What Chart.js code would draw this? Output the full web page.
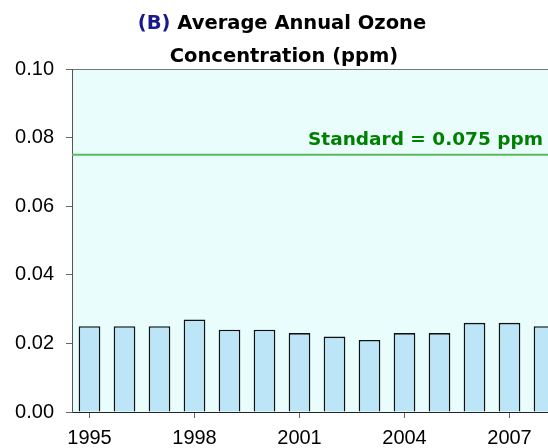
<!DOCTYPE html>
<html>
<head>
<meta charset="utf-8">
<script src="https://cdn.jsdelivr.net/npm/chart.js@4.4.1/dist/chart.umd.min.js"></script>
<style>
  html, body { margin: 0; padding: 0; background: #fff; overflow: hidden; }
  #wrap { width: 548px; height: 448px; overflow: hidden; }
</style>
</head>
<body>
<div id="wrap"><canvas id="ozoneChart" width="562" height="448"></canvas></div>
<script>
// Chart data
const years = ["1995", "1996", "1997", "1998", "1999", "2000", "2001",
               "2002", "2003", "2004", "2005", "2006", "2007", "2008"];
const ozoneValues = [0.025, 0.025, 0.025, 0.027, 0.024, 0.024, 0.023,
                     0.022, 0.021, 0.023, 0.023, 0.026, 0.026, 0.025];
const standardValue = 0.075;
const yTicks = [0.00, 0.02, 0.04, 0.06, 0.08, 0.10];
const titleLines = ["Average Annual Ozone", "Concentration (ppm)"];

const titleFont = "bold 19.5px 'DejaVu Sans', sans-serif";
const labelFont = "bold 18.5px 'DejaVu Sans', sans-serif";

// Light cyan plot area with a thin top border
const plotBackground = {
  id: "plotBackground",
  beforeDraw(chart) {
    const { ctx, chartArea } = chart;
    ctx.save();
    ctx.fillStyle = "#e9fdfd";
    ctx.fillRect(chartArea.left, chartArea.top, chartArea.right - chartArea.left, chartArea.bottom - chartArea.top);
    ctx.strokeStyle = "#777";
    ctx.lineWidth = 1;
    ctx.beginPath();
    ctx.moveTo(chartArea.left, chartArea.top + 0.5);
    ctx.lineTo(chartArea.right, chartArea.top + 0.5);
    ctx.stroke();
    ctx.restore();
  }
};

// Standard line and label, placed with the y scale
const standardLine = {
  id: "standardLine",
  afterDatasetsDraw(chart) {
    const { ctx, chartArea, scales } = chart;
    const y = scales.y.getPixelForValue(standardValue);
    ctx.save();
    ctx.strokeStyle = "#5cb85c";
    ctx.lineWidth = 2;
    ctx.beginPath();
    ctx.moveTo(chartArea.left, y);
    ctx.lineTo(chartArea.right, y);
    ctx.stroke();
    ctx.fillStyle = "#008000";
    ctx.font = labelFont;
    ctx.textAlign = "right";
    ctx.textBaseline = "alphabetic";
    ctx.fillText("Standard = " + standardValue.toFixed(3) + " ppm", 543, y - 10);
    ctx.restore();
  }
};

// Two line title, "(B)" in navy
const titleDraw = {
  id: "titleDraw",
  afterDraw(chart) {
    const ctx = chart.ctx;
    const cx = 282;
    ctx.save();
    ctx.font = titleFont;
    ctx.textBaseline = "alphabetic";
    ctx.textAlign = "left";
    const prefix = "(B) ";
    const w1 = ctx.measureText(prefix).width;
    const w2 = ctx.measureText(titleLines[0]).width;
    let x = cx - (w1 + w2) / 2;
    ctx.fillStyle = "#1a1a8c";
    ctx.fillText(prefix, x, 29);
    ctx.fillStyle = "#000";
    ctx.fillText(titleLines[0], x + w1, 29);
    ctx.textAlign = "center";
    ctx.fillText(titleLines[1], cx + 2, 62);
    ctx.restore();
  }
};

const ctx = document.getElementById("ozoneChart").getContext("2d");
const ozoneChart = new Chart(ctx, {
  type: "bar",
  data: {
    labels: years,
    datasets: [{
      label: "Ozone",
      data: ozoneValues,
      backgroundColor: "#bde5f8",
      borderColor: "#111",
      borderWidth: 1.6,
      borderSkipped: "bottom",
      barPercentage: 0.62,
      categoryPercentage: 1.0
    }]
  },
  options: {
    responsive: false,
    animation: false,
    layout: { padding: { top: 69, left: 0, right: 0, bottom: 0 } },
    plugins: {
      legend: { display: false },
      title: { display: false },
      tooltip: { enabled: false }
    },
    scales: {
      x: {
        offset: true,
        grid: {
          offset: false,
          drawOnChartArea: false,
          tickLength: 6,
          color: (c) => (c.index % 3 === 0 ? "#666" : "transparent")
        },
        border: { color: "#222", width: 1 },
        ticks: {
          autoSkip: false,
          maxRotation: 0,
          padding: 8,
          color: "#000",
          font: { family: "'Liberation Sans', Arial, sans-serif", size: 20 },
          callback: function (v, i) { return i % 3 === 0 ? years[i] : ""; }
        },
        afterFit: (scale) => { scale.height = 36; }
      },
      y: {
        min: yTicks[0],
        max: yTicks[yTicks.length - 1],
        afterBuildTicks: (scale) => { scale.ticks = yTicks.map(v => ({ value: v })); },
        grid: { drawOnChartArea: false, tickLength: 6, color: "#666" },
        border: { color: "#555", width: 1 },
        ticks: {
          padding: 12,
          color: "#000",
          font: { family: "'Liberation Sans', Arial, sans-serif", size: 20 },
          callback: (v) => v.toFixed(2)
        },
        afterFit: (scale) => { scale.width = 72; }
      }
    }
  },
  plugins: [plotBackground, standardLine, titleDraw]
});
</script>
</body>
</html>
